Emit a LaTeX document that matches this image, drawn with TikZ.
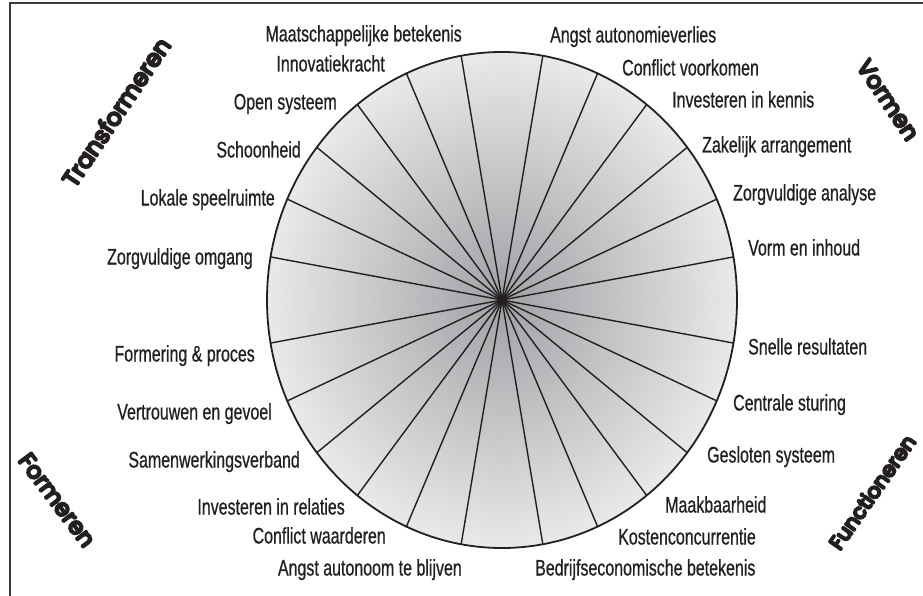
\documentclass[tikz,border=0pt]{standalone}
\usepackage{fontspec}
\setmainfont{Liberation Sans}[FakeStretch=0.71]
\newfontfamily\titlefont{Poppins}
\newcommand{\heavytext}[1]{\special{pdf:literal direct 2 Tr 2.3 w 1 j}#1\special{pdf:literal direct 0 Tr 1 w 0 j}}
\definecolor{ink}{HTML}{231F20}
\definecolor{framecol}{HTML}{3A3A3A}
\definecolor{shadein}{HTML}{9FA1A4}
\definecolor{shadeout}{HTML}{E8E9EA}
\begin{document}
\begin{tikzpicture}[x=1pt,y=-1pt,
  lab/.style={font=\fontsize{22.5}{26}\selectfont, text=ink, inner sep=0pt,
    execute at begin node={\special{pdf:literal direct 2 Tr 0.15 w}},
    execute at end node={\special{pdf:literal direct 0 Tr 1 w}}},
  labL/.style={lab, anchor=base east},
  labR/.style={lab, anchor=base west},
  title/.style={text=ink, inner sep=0pt},
  spoke/.style={draw=ink, line width=1.4pt},
  rim/.style={draw=ink, line width=1.8pt},
  framestyle/.style={draw=framecol, line width=1.3pt}]
\useasboundingbox (0,0) rectangle (923,596);
% frame
\coordinate (fb) at (10,596);
\coordinate (ft) at (10,3);
\coordinate (fr) at (923,3);
\draw[framestyle] (fb) -- (ft) -- (fr);
% wheel
\coordinate (c) at (502,300);
\shade[inner color=shadein, outer color=shadeout] (c) ellipse [x radius=235, y radius=248];
\foreach \a in {10,24,38,52,66,80,100,114,128,142,156,170,190,204,218,232,246,260,280,294,308,322,336,350}
  \draw[spoke] (c) -- ++({235*cos(\a)},{248*sin(\a)});
\draw[rim] (c) ellipse [x radius=235, y radius=248];
% left labels
\node[labL] (l1) at (462,41.5) {Maatschappelijke betekenis};
\node[labL] (l2) at (385,71.5) {Innovatiekracht};
\node[labL] (l3) at (337,109.5) {Open systeem};
\node[labL] (l4) at (301,157.5) {Schoonheid};
\node[labL] (l5) at (275,205.5) {Lokale speelruimte};
\node[labL] (l6) at (253,264.5) {Zorgvuldige omgang};
\node[labL] (l7) at (255,361.5) {Formering \& proces};
\node[labL] (l8) at (272,419.5) {Vertrouwen en gevoel};
\node[labL] (l9) at (300,467.5) {Samenwerkingsverband};
\node[labL] (l10) at (345,514.5) {Investeren in relaties};
\node[labL] (l11) at (386,543.5) {Conflict waarderen};
\node[labL] (l12) at (462,575.5) {Angst autonoom te blijven};
% right labels
\node[labR] (r1) at (550,42.5) {Angst autonomieverlies};
\node[labR] (r2) at (622,75.5) {Conflict voorkomen};
\node[labR] (r3) at (672,107.5) {Investeren in kennis};
\node[labR] (r4) at (702,152.5) {Zakelijk arrangement};
\node[labR] (r5) at (733,200.5) {Zorgvuldige analyse};
\node[labR] (r6) at (748,255.5) {Vorm en inhoud};
\node[labR] (r7) at (748,354.5) {Snelle resultaten};
\node[labR] (r8) at (733,410.5) {Centrale sturing};
\node[labR] (r9) at (707,462.5) {Gesloten systeem};
\node[labR] (r10) at (665,512.5) {Maakbaarheid};
\node[labR] (r11) at (618,544.5) {Kostenconcurrentie};
\node[labR] (r12) at (535,575.5) {Bedrijfseconomische betekenis};
% corner titles
\node[title, font=\titlefont\fontsize{23.5}{28}\selectfont, rotate=56] (t1) at (116,112) {\heavytext{Transformeren}};
\node[title, font=\titlefont\fontsize{23}{28}\selectfont, rotate=-56] (t2) at (888,100) {\heavytext{Vormen}};
\node[title, font=\titlefont\fontsize{23}{28}\selectfont, rotate=-53] (t3) at (57,500) {\heavytext{Formeren}};
\node[title, font=\titlefont\fontsize{20.5}{26}\selectfont, rotate=55] (t4) at (872,492) {\heavytext{Functioneren}};
\end{tikzpicture}
\end{document}
